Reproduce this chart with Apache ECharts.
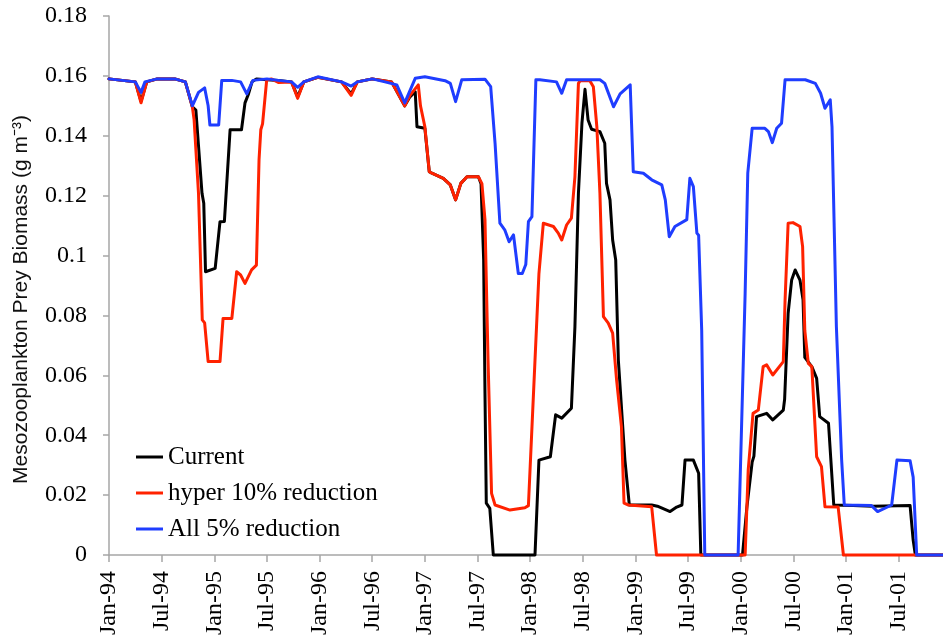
<!DOCTYPE html>
<html>
<head>
<meta charset="utf-8">
<script src="https://cdn.jsdelivr.net/npm/echarts@6/dist/echarts.min.js"></script>
<style>
html,body{margin:0;padding:0;background:#fff;}
#chart{width:943px;height:644px;}
</style>
</head>
<body>
<div id="chart"></div>
<script>
// x values: months since Jan-1994
var xTickLabels = ["Jan-94","Jul-94","Jan-95","Jul-95","Jan-96","Jul-96","Jan-97","Jul-97","Jan-98","Jul-98","Jan-99","Jul-99","Jan-00","Jul-00","Jan-01","Jul-01"];
var seriesNames = ["Current","hyper 10% reduction","All 5% reduction"];

var current = [[0,0.159],[1.5,0.1585],[3.0,0.158],[3.65,0.1515],[4.3,0.158],[5.5,0.159],[7.5,0.159],[8.7,0.158],[9.5,0.1497],[9.9,0.1486],[10.6,0.1208],[10.8,0.1175],[11.0,0.0946],[12.1,0.0957],[12.65,0.1113],[13.15,0.1114],[13.8,0.142],[15.1,0.142],[15.5,0.151],[15.9,0.154],[16.3,0.158],[16.8,0.159],[19.3,0.1585],[20.8,0.158],[21.5,0.153],[22.2,0.158],[23.8,0.1595],[26.5,0.158],[27.6,0.154],[28.3,0.158],[30,0.159],[32.2,0.158],[33.7,0.150],[34.3,0.153],[34.9,0.1547],[35.1,0.143],[36.0,0.1425],[36.5,0.128],[36.8,0.1275],[38.1,0.1258],[38.9,0.1236],[39.5,0.1186],[40.1,0.1241],[40.8,0.1263],[42.1,0.1263],[42.4,0.124],[42.7,0.0985],[42.85,0.054],[43.0,0.0173],[43.4,0.0156],[43.8,0],[48.55,0],[49.0,0.0317],[50.3,0.0328],[50.9,0.0468],[51.6,0.0457],[52.7,0.049],[53.1,0.0762],[53.5,0.1208],[53.9,0.1442],[54.25,0.1555],[54.6,0.1453],[55.0,0.1422],[55.95,0.1414],[56.5,0.1375],[56.7,0.1241],[57.1,0.1186],[57.4,0.1052],[57.75,0.0985],[58.05,0.0651],[58.8,0.0317],[59.3,0.0167],[61.85,0.0167],[62.5,0.0163],[63.95,0.0145],[64.7,0.016],[65.3,0.0167],[65.65,0.0317],[66.6,0.0317],[67.2,0.0273],[67.45,0],[72.2,0],[72.7,0.016],[73.3,0.031],[73.5,0.033],[73.8,0.0462],[74.95,0.0473],[75.65,0.0451],[76.85,0.0484],[77.0,0.052],[77.4,0.0807],[77.8,0.0918],[78.2,0.0952],[78.75,0.0918],[79.1,0.0852],[79.3,0.066],[80.1,0.0629],[80.65,0.059],[81.0,0.0462],[82.0,0.044],[82.6,0.0167],[84.8,0.0165],[87,0.0163],[91.3,0.0165],[91.65,0.005],[91.9,0],[95.05,0]];

var hyper = [[0,0.159],[1.5,0.1585],[3.0,0.158],[3.65,0.151],[4.3,0.158],[5.5,0.159],[7.5,0.159],[8.7,0.158],[9.5,0.1497],[9.7,0.1453],[10.2,0.1208],[10.63,0.0785],[10.9,0.0775],[11.3,0.0646],[12.65,0.0646],[13.0,0.079],[14.0,0.079],[14.55,0.0946],[15.0,0.0935],[15.5,0.0907],[16.25,0.0952],[16.8,0.0968],[17.1,0.132],[17.3,0.142],[17.5,0.144],[17.97,0.1586],[18.5,0.159],[19.3,0.1578],[20.8,0.158],[21.5,0.1525],[22.2,0.158],[23.8,0.1595],[26.5,0.158],[27.6,0.1535],[28.3,0.158],[30,0.159],[32.2,0.158],[33.7,0.150],[34.3,0.1535],[35.25,0.157],[35.5,0.15],[36.0,0.143],[36.5,0.128],[36.8,0.1275],[38.1,0.1258],[38.9,0.1236],[39.5,0.1186],[40.1,0.1241],[40.8,0.1263],[42.1,0.1263],[42.5,0.124],[42.85,0.112],[43.2,0.065],[43.6,0.0206],[44.0,0.0167],[45.7,0.015],[47.4,0.0158],[47.8,0.0165],[48.55,0.065],[49.0,0.094],[49.5,0.1108],[50.65,0.1097],[51.2,0.1075],[51.6,0.1052],[52.15,0.1102],[52.7,0.1125],[53.1,0.1263],[53.5,0.1575],[53.7,0.1584],[54.8,0.1584],[55.2,0.1564],[55.6,0.143],[55.95,0.1208],[56.35,0.0796],[56.9,0.0774],[57.4,0.0741],[57.85,0.0585],[58.4,0.0429],[58.7,0.0173],[59.2,0.0167],[61.85,0.0161],[62.4,0],[72.5,0],[72.85,0.0284],[73.4,0.0473],[74.0,0.0484],[74.55,0.0629],[74.95,0.0635],[75.65,0.0601],[76.85,0.0646],[77.05,0.085],[77.4,0.1108],[77.95,0.111],[78.75,0.1097],[79.05,0.103],[79.3,0.075],[79.7,0.064],[80.1,0.0629],[80.65,0.0328],[81.2,0.0295],[81.6,0.0161],[83.1,0.016],[83.7,0],[95.05,0]];

var all5 = [[0,0.159],[1.5,0.1585],[3.0,0.158],[3.65,0.1545],[4.1,0.158],[5.5,0.159],[7.5,0.159],[8.7,0.158],[9.5,0.150],[10.2,0.1545],[10.9,0.156],[11.3,0.150],[11.5,0.1436],[12.5,0.1436],[12.85,0.1585],[14.0,0.1585],[15.0,0.158],[15.7,0.154],[16.4,0.1585],[18,0.159],[19.3,0.1585],[20.8,0.158],[21.5,0.1562],[22.2,0.158],[23.8,0.1597],[26.5,0.158],[27.6,0.1566],[28.3,0.158],[30,0.159],[31.45,0.158],[32.8,0.157],[33.7,0.151],[34.9,0.1592],[36.0,0.1597],[38.3,0.1584],[38.9,0.1575],[39.5,0.1514],[40.2,0.1587],[42.85,0.1589],[43.5,0.1564],[44.0,0.1375],[44.55,0.1108],[45.1,0.1086],[45.6,0.1046],[46.1,0.1069],[46.65,0.094],[47.1,0.094],[47.5,0.097],[47.8,0.1113],[48.2,0.113],[48.65,0.1587],[49.1,0.1587],[51.0,0.158],[51.6,0.1542],[52.15,0.1587],[55.95,0.1587],[56.5,0.1575],[57.5,0.1497],[58.25,0.154],[59.4,0.157],[59.75,0.128],[60.9,0.1275],[61.85,0.1253],[63.0,0.1236],[63.4,0.1186],[63.85,0.1063],[64.5,0.1097],[65.85,0.112],[66.2,0.1258],[66.6,0.123],[67.0,0.1075],[67.2,0.1068],[67.55,0.075],[67.9,0],[71.7,0],[72.5,0.0874],[72.8,0.1275],[73.3,0.1425],[74.75,0.1425],[75.15,0.1414],[75.6,0.1377],[76.1,0.1425],[76.65,0.1442],[77.05,0.1587],[78.4,0.1587],[79.35,0.1587],[80.5,0.1575],[81.1,0.1542],[81.6,0.1492],[82.2,0.152],[82.4,0.143],[82.9,0.0762],[83.5,0.0317],[83.8,0.0167],[86.9,0.0165],[87.6,0.0145],[89.2,0.0167],[89.8,0.0317],[91.3,0.0315],[91.65,0.026],[92.05,0],[95.05,0]];

var colors = ["#000000","#ff2200","#1f3dff"];
var serif = "'Liberation Serif','Times New Roman',serif";
var sans = "'Liberation Sans',Arial,sans-serif";

var chart = echarts.init(document.getElementById('chart'), null, {renderer:'canvas'});
function mk(name, data, color){
  return {name:name, type:'line', data:data, showSymbol:false, symbol:'none', clip:false,
    lineStyle:{width:3, color:color, join:'round', cap:'round'}, itemStyle:{color:color}, animation:false};
}
chart.setOption({
  animation:false,
  backgroundColor:'#fff',
  grid:{left:109, right:0, top:16, bottom:89},
  legend:{
    orient:'vertical', left:136, top:444, padding:0, itemGap:10,
    icon:'rect', itemWidth:27, itemHeight:3,
    textStyle:{fontFamily:serif, fontSize:25, color:'#000', lineHeight:26},
    data:seriesNames
  },
  xAxis:{
    type:'value', min:0, max:95.05, interval:6,
    splitLine:{show:false},
    axisLine:{show:true, onZero:false, lineStyle:{color:'#a6a6a6', width:1.5}},
    axisTick:{show:true, length:7, lineStyle:{color:'#a6a6a6', width:1.5}},
    axisLabel:{rotate:90, margin:16, fontFamily:serif, fontSize:24, color:'#000',
      showMaxLabel:false,
      formatter:function(v){ var i=Math.round(v/6); return (Math.abs(v-i*6)<1e-6 && xTickLabels[i]) ? xTickLabels[i] : ''; }}
  },
  yAxis:{
    type:'value', min:0, max:0.18, interval:0.02,
    name:'Mesozooplankton Prey Biomass (g m\u207B\u00B3)',
    nameLocation:'middle', nameGap:77, nameRotate:90,
    nameTextStyle:{fontFamily:sans, fontSize:21, color:'#111', padding:[0,28,0,0]},
    splitLine:{show:false},
    axisLine:{show:true, lineStyle:{color:'#a6a6a6', width:1.5}},
    axisTick:{show:true, length:6, lineStyle:{color:'#a6a6a6', width:1.5}},
    axisLabel:{margin:22, fontFamily:serif, fontSize:24, color:'#000'}
  },
  series:[mk(seriesNames[0], current, colors[0]), mk(seriesNames[1], hyper, colors[1]), mk(seriesNames[2], all5, colors[2])]
});
</script>
</body>
</html>
